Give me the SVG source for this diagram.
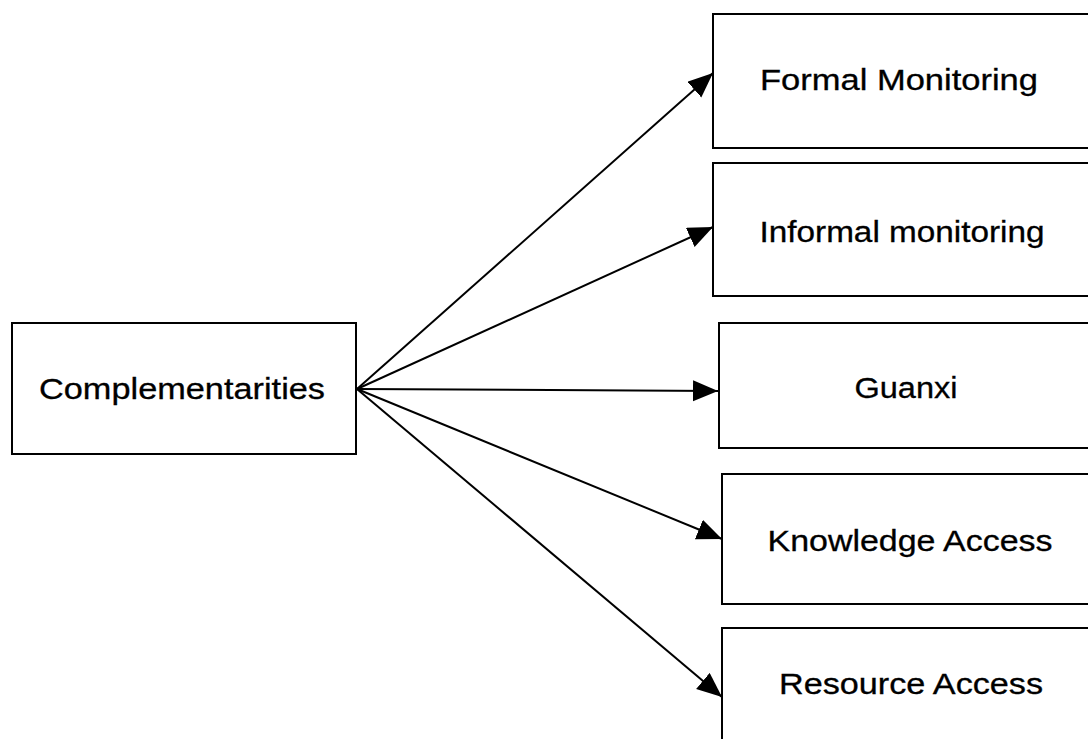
<svg xmlns="http://www.w3.org/2000/svg" width="1088" height="739" viewBox="0 0 1088 739">
  <style>
    .box { fill: #ffffff; stroke: #000000; stroke-width: 2; }
    .label { font-family: "Liberation Sans", Arial, sans-serif; font-size: 29px; fill: #000000; stroke: #000000; stroke-width: 0.3; text-anchor: middle; }
    .edge { stroke: #000000; stroke-width: 2; fill: none; marker-end: url(#arrow); }
  </style>
  <defs>
    <marker id="arrow" markerUnits="userSpaceOnUse" markerWidth="27" markerHeight="22" refX="25" refY="10.5" orient="auto">
      <path d="M0,0 L25,10.5 L0,21 z" fill="#000000"/>
    </marker>
  </defs>
  <rect width="1088" height="739" fill="#ffffff"/>

  <g id="node-complementarities">
    <rect class="box" x="12" y="323" width="344" height="131"/>
    <text class="label" x="182" y="399" textLength="286" lengthAdjust="spacingAndGlyphs">Complementarities</text>
  </g>

  <g id="node-formal-monitoring">
    <rect class="box" x="713" y="14" width="390" height="134"/>
    <text class="label" x="899" y="90" textLength="278" lengthAdjust="spacingAndGlyphs">Formal Monitoring</text>
  </g>

  <g id="node-informal-monitoring">
    <rect class="box" x="713" y="163" width="390" height="133"/>
    <text class="label" x="902" y="242" textLength="285" lengthAdjust="spacingAndGlyphs">Informal monitoring</text>
  </g>

  <g id="node-guanxi">
    <rect class="box" x="719" y="323" width="390" height="125"/>
    <text class="label" x="906" y="398" textLength="103" lengthAdjust="spacingAndGlyphs">Guanxi</text>
  </g>

  <g id="node-knowledge-access">
    <rect class="box" x="722" y="474" width="390" height="130"/>
    <text class="label" x="910" y="551" textLength="285" lengthAdjust="spacingAndGlyphs">Knowledge Access</text>
  </g>

  <g id="node-resource-access">
    <rect class="box" x="722" y="628" width="390" height="130"/>
    <text class="label" x="911" y="694" textLength="264" lengthAdjust="spacingAndGlyphs">Resource Access</text>
  </g>

  <g id="connectors">
    <line class="edge" x1="357" y1="389" x2="713" y2="73"/>
    <line class="edge" x1="357" y1="389" x2="713" y2="227"/>
    <line class="edge" x1="357" y1="389" x2="718" y2="391"/>
    <line class="edge" x1="357" y1="389" x2="722" y2="539"/>
    <line class="edge" x1="357" y1="389" x2="722" y2="697"/>
  </g>
</svg>
